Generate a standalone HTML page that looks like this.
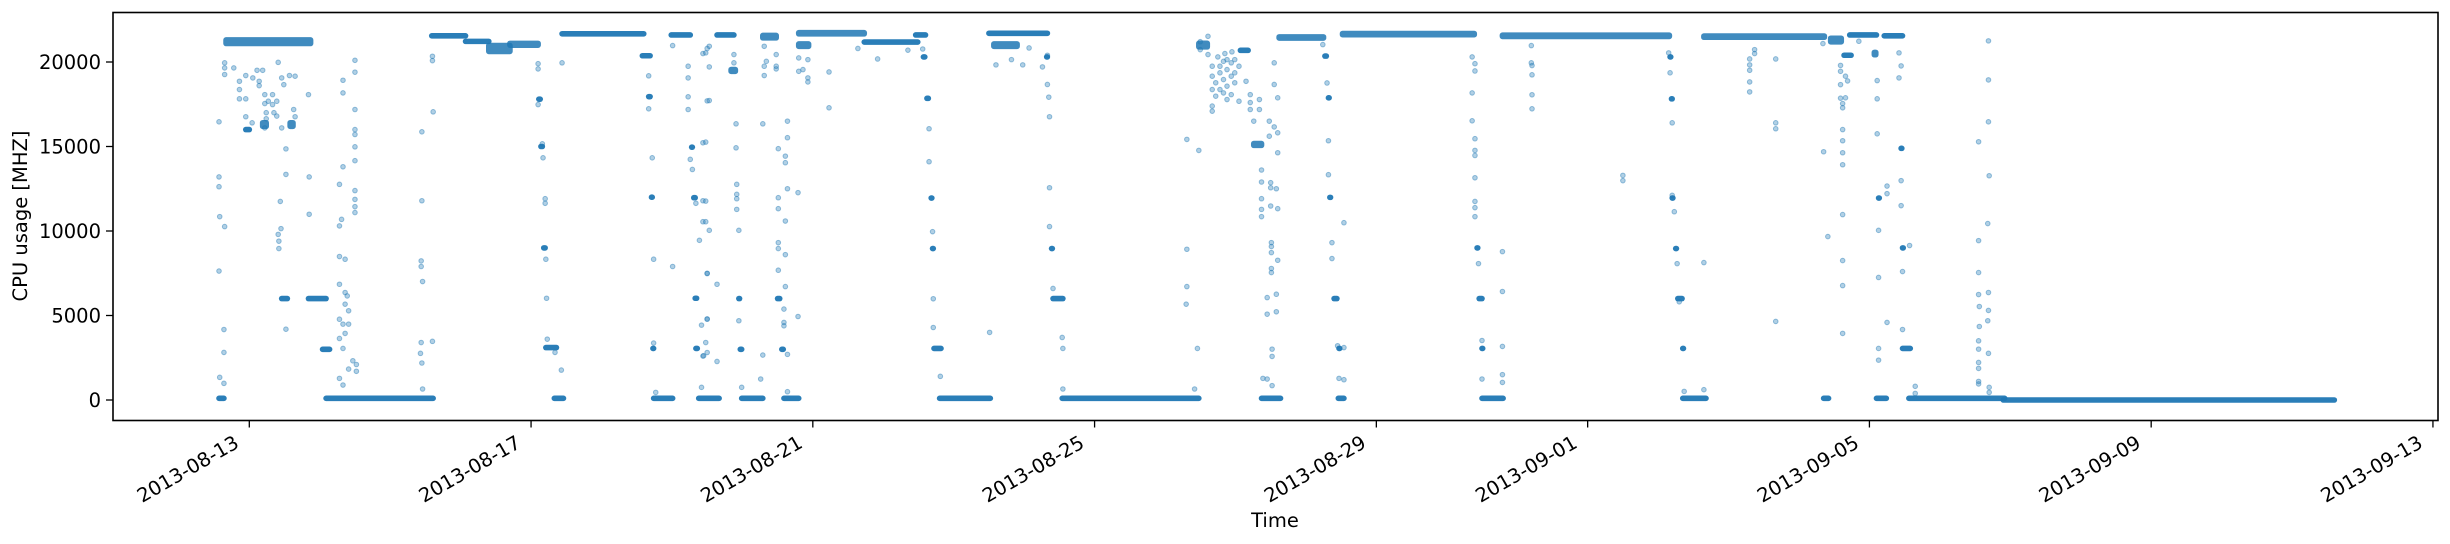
<!DOCTYPE html>
<html><head><meta charset="utf-8"><style>
html,body{margin:0;padding:0;background:#fff}
svg{display:block;font-family:"DejaVu Sans","Liberation Sans",sans-serif}
</style></head><body>
<svg id="chart" width="2450" height="544" viewBox="0 0 2450 544" xmlns="http://www.w3.org/2000/svg">
<rect x="0" y="0" width="2450" height="544" fill="#fff"/>
<g id="marks"></g>
<rect x="113" y="12.5" width="2325" height="408" fill="none" stroke="#000" stroke-width="1.6"/>
<g id="axes"></g>
<text x="0" y="0" font-size="19.5" text-anchor="middle" transform="translate(27,216) rotate(-90)">CPU usage [MHZ]</text>
<text x="1275" y="527" font-size="19.5" text-anchor="middle">Time</text>
</svg>
<script>
// ---- data ----
const xTickDays = [0,4,8,12,16,19,23,27,31];
const xTickLabels = ["2013-08-13","2013-08-17","2013-08-21","2013-08-25","2013-08-29","2013-09-01","2013-09-05","2013-09-09","2013-09-13"];
const yTickValues = [0,5000,10000,15000,20000];
const yTickLabels = ["0","5000","10000","15000","20000"];
// dense runs of samples: start day, end day, value, band spread
const segStart = [-0.43,-0.33,-0.05,0.19,0.58,0.46,0.84,1.04,1.09,2.59,3.07,3.40,3.70,4.11,4.14,4.18,4.21,4.33,4.44,5.58,5.67,5.71,5.73,5.74,5.99,6.28,6.31,6.33,6.34,6.38,6.64,6.84,6.95,6.97,6.99,7.29,7.50,7.56,7.59,7.80,7.80,8.73,9.46,9.57,9.62,9.68,9.70,9.72,9.80,10.50,10.57,11.32,11.39,11.41,11.54,13.48,14.07,14.26,14.37,14.62,15.27,15.32,15.34,15.40,15.47,15.46,15.52,17.43,17.46,17.50,17.50,17.79,20.17,20.19,20.20,20.25,20.28,20.35,20.35,20.65,22.35,22.45,22.64,22.72,23.07,23.13,23.10,23.21,23.45,23.47,23.47,23.56,24.90];
const segEnd   = [-0.36,0.87,0.0,0.24,0.62,0.54,1.09,1.14,2.61,3.07,3.40,3.70,4.10,4.13,4.16,4.20,4.36,4.46,5.60,5.69,5.69,5.72,5.74,6.01,6.26,6.29,6.33,6.35,6.36,6.67,6.88,6.90,6.96,6.99,7.29,7.48,7.53,7.58,7.80,7.94,8.73,9.49,9.60,9.59,9.64,9.69,9.71,9.82,10.52,11.33,10.90,11.33,11.40,11.55,13.48,13.60,14.18,14.37,14.64,15.25,15.29,15.33,15.35,15.44,15.48,15.54,17.39,17.44,17.50,17.51,17.80,20.16,20.18,20.20,20.21,20.26,20.34,20.36,20.68,22.36,22.42,22.60,22.74,23.10,23.09,23.14,23.24,23.47,23.46,23.48,23.58,24.92,29.60];
const segValue = [100,21200,16000,16300,16300,6000,6000,3000,100,21550,21220,20800,21050,17800,15000,9000,3100,100,21670,20370,17950,12000,3050,100,21600,14960,11970,6020,3050,100,21600,19500,6000,3000,100,21500,6000,3000,100,21000,21700,21180,21600,20300,17850,11950,8960,3050,100,21700,21000,20300,8960,6000,100,21000,20690,15120,100,21450,20350,17880,11990,6000,3050,100,21650,9000,6000,3050,100,21550,20300,17820,11950,8960,6000,3050,100,21500,100,21300,20400,21600,20500,11950,100,21550,14890,9000,3050,100,0];
const segSpread = [0,300,0,300,300,0,0,0,0,0,0,500,150,0,0,0,0,0,0,0,0,0,0,0,0,0,0,0,0,0,0,150,0,0,0,200,0,0,0,200,100,0,0,0,0,0,0,0,0,0,200,0,0,0,0,300,0,150,0,100,0,0,0,0,0,0,100,0,0,0,0,100,0,0,0,0,0,0,0,100,0,300,0,0,200,0,0,0,0,0,0,0,0];
// individual scattered samples: [day, value]
const scatterPoints = [
[-0.43,16460],[-0.43,13200],[-0.43,12620],[-0.42,10850],[-0.43,7630],[-0.42,1340],[-0.36,4170],[-0.36,2815],[-0.35,10260],[-0.36,985],
[-0.35,19950],[-0.35,19650],[-0.35,19260],[-0.22,19650],[-0.14,18860],[-0.14,18370],[-0.14,17820],[-0.05,17820],[-0.05,19200],[-0.05,16760],
[0.04,16400],[0.05,19060],[0.11,19510],[0.14,18600],[0.14,18860],[0.19,19510],[0.22,18070],[0.22,17540],[0.24,17000],[0.24,16640],[0.22,16100],
[0.27,17680],[0.33,17480],[0.33,18070],[0.35,17000],[0.39,17680],[0.39,16800],[0.41,19980],[0.44,11750],[0.45,10140],[0.41,9800],[0.42,9400],[0.42,8960],
[0.46,19060],[0.46,16100],[0.49,18660],[0.52,13350],[0.52,14860],[0.52,4190],[0.57,19200],[0.63,17190],[0.65,16760],[0.65,19160],[0.84,18070],[0.85,13200],[0.85,10990],
[1.28,12760],[1.28,10300],[1.28,8490],[1.28,6850],[1.28,4780],[1.28,3640],[1.28,1280],[1.31,10690],[1.33,18920],[1.33,18170],[1.33,13800],[1.33,4490],[1.33,3050],[1.33,886],
[1.36,8330],[1.36,6360],[1.36,5670],[1.36,3940],[1.39,6160],[1.41,5280],[1.41,4490],[1.41,1830],[1.47,2320],[1.5,20100],[1.5,19400],[1.5,17190],[1.5,16000],[1.5,15710],
[1.5,14980],[1.5,14160],[1.5,12390],[1.5,11870],[1.5,11440],[1.5,11090],[1.52,2100],[1.52,1700],
[2.45,15870],[2.45,11790],[2.44,8230],[2.44,7900],[2.46,7010],[2.44,3400],[2.43,2760],[2.45,2190],[2.46,650],[2.6,20340],[2.6,20080],[2.61,17050],[2.6,3470],
[4.1,19900],[4.1,19590],[4.1,17480],[4.16,15160],[4.17,14330],[4.2,11910],[4.2,11640],[4.21,8330],[4.22,6020],[4.23,3600],[4.34,2815],[4.43,1770],[4.44,19950],
[5.67,19180],[5.67,17230],[5.72,14330],[5.74,8330],[5.74,3370],[5.77,450],[6.01,20970],[6.01,7900],
[6.23,19750],[6.23,19060],[6.23,17940],[6.23,17190],[6.26,14240],[6.29,13640],[6.34,11640],[6.39,9450],[6.42,4430],[6.42,750],[6.45,2620],[6.48,20540],[6.48,15260],
[6.48,11770],[6.48,10550],[6.48,3400],[6.5,7480],[6.5,4780],[6.5,2810],[6.53,20930],[6.53,19710],[6.53,17720],[6.53,10040],
[6.44,20500],[6.44,15220],[6.44,11790],[6.44,10550],[6.44,2600],[6.5,20800],[6.5,17700],[6.5,7500],[6.5,4800],[6.64,6850],[6.64,2280],
[6.88,20440],[6.88,19950],[6.91,16340],[6.91,14920],[6.92,12760],[6.92,12170],[6.92,11910],[6.92,11280],[6.95,10040],[6.95,4690],[6.99,750],
[7.26,1240],[7.29,16340],[7.29,2660],[7.31,20930],[7.31,19750],[7.31,19200],[7.34,20040],[7.48,20440],[7.48,19750],[7.48,19590],
[7.51,14870],[7.51,11970],[7.51,11320],[7.51,9310],[7.51,8960],[7.51,7680],[7.59,5380],[7.59,4590],[7.59,4390],[7.61,14430],[7.61,14040],[7.61,10590],[7.61,8600],[7.61,6710],
[7.64,16500],[7.64,15520],[7.64,12500],[7.64,2700],[7.64,490],[7.79,12270],[7.79,4940],
[7.8,20240],[7.8,19450],[7.86,19550],[7.93,20140],[7.93,19060],[7.93,18820],[8.23,19410],[8.23,17290],[8.92,20180],[8.64,20800],[9.35,20700],
[9.56,20770],[9.65,16050],[9.65,14100],[9.7,9960],[9.71,5990],[9.71,4290],[9.81,1400],[10.51,4000],
[10.6,19830],[10.82,20140],[10.98,19830],[11.07,20830],[11.26,19710],
[11.33,20400],[11.33,18670],[11.35,17920],[11.36,16760],[11.36,12560],[11.36,10260],[11.41,6600],[11.54,3700],[11.55,3050],[11.55,650],
[13.31,15420],[13.31,8920],[13.31,6710],[13.3,5670],[13.42,650],[13.46,3050],[13.48,14770],
[13.5,21200],[13.5,20730],[13.61,21520],[13.61,20440],[13.67,19750],[13.67,19160],[13.67,18370],[13.67,17390],[13.67,17090],[13.72,18770],[13.72,17980],
[13.78,19750],[13.78,19360],[13.78,18370],[13.83,20040],[13.83,18960],[13.83,18170],[13.88,20140],[13.88,19550],[13.88,18570],[13.88,17780],
[13.94,19950],[13.94,19160],[13.94,18070],[13.99,20140],[13.99,19360],[13.99,18770],[14.05,19750],[14.05,17680],[13.75,20300],[13.85,20500],[13.95,20600],
[14.15,18860],[14.21,18070],[14.21,17600],[14.21,17190],[14.26,16500],
[14.34,17780],[14.34,17190],[14.37,13610],[14.37,12900],[14.37,11910],[14.37,11280],[14.37,10850],[14.39,1280],[14.45,1240],[14.48,16500],[14.48,15610],
[14.5,12860],[14.5,12560],[14.5,11480],[14.51,9310],[14.51,9080],[14.51,8720],[14.51,7780],[14.51,7540],[14.45,6060],[14.45,5080],[14.52,3010],[14.52,2580],[14.52,850],
[14.55,19950],[14.55,18670],[14.55,16160],[14.58,12500],[14.58,6260],[14.58,5220],[14.6,17880],[14.6,15810],[14.6,14630],[14.6,11320],[14.6,8270],
[15.24,21030],[15.3,18760],[15.32,15340],[15.32,13330],[15.37,9310],[15.37,8370],[15.45,3210],[15.47,1280],[15.54,10490],[15.54,3100],[15.54,1200],
[17.36,20300],[17.36,18170],[17.36,16520],[17.4,19900],[17.4,19470],[17.4,15460],[17.4,14770],[17.4,14470],[17.4,13150],[17.4,11750],[17.4,11380],[17.4,10850],
[17.45,8070],[17.5,3520],[17.5,1240],[17.79,8780],[17.79,6420],[17.79,3170],[17.79,1500],[17.79,1040],
[18.2,20970],[18.2,19950],[18.21,19790],[18.21,19240],[18.21,18060],[18.21,17230],[19.5,13290],[19.5,12980],
[20.15,20540],[20.17,19360],[20.2,16400],[20.2,12110],[20.23,11140],[20.27,8070],[20.3,5810],[20.37,510],[20.65,8130],[20.65,610],
[21.3,20180],[21.3,19830],[21.3,19510],[21.3,18820],[21.3,18230],[21.37,20730],[21.37,20500],[21.67,20180],[21.67,16400],[21.67,16050],[21.67,4650],
[22.34,21090],[22.35,14690],[22.41,9670],[22.59,19800],[22.59,19450],[22.59,18660],[22.59,17860],[22.62,17540],[22.62,17290],[22.62,16000],[22.62,15340],
[22.62,14630],[22.62,13920],[22.62,10970],[22.62,8250],[22.62,6770],[22.62,3940],[22.66,17880],[22.66,19160],[22.69,18880],[22.85,21230],
[23.11,18900],[23.11,17820],[23.11,15750],[23.13,10040],[23.13,7250],[23.13,3050],[23.13,2360],[23.25,12660],[23.25,12210],[23.25,4590],
[23.42,20540],[23.42,19060],[23.45,19770],[23.45,12980],[23.45,11500],[23.47,7600],[23.47,4170],[23.57,9140],[23.65,810],[23.65,390],
[24.55,15280],[24.55,9430],[24.55,7540],[24.55,6240],[24.56,5530],[24.56,4350],[24.55,3500],[24.55,3010],[24.55,2220],[24.55,1870],[24.55,1100],[24.55,950],
[24.69,21250],[24.69,18940],[24.69,16460],[24.7,13270],[24.68,10440],[24.69,6360],[24.69,5300],[24.68,4690],[24.69,2760],[24.7,750],[24.7,450]
];
// ---- scales ----
const X0 = 249.3, PXD = 70.44, Y0 = 400, PYV = 0.0169;
function xScale(d){ return X0 + d * PXD; }
function yScale(v){ return Y0 - v * PYV; }
const NS = "http://www.w3.org/2000/svg";
const marks = document.getElementById('marks');
const axes = document.getElementById('axes');
const C = "#1f77b4";
// dense runs
for (let i = 0; i < segStart.length; i++) {
  const x1 = xScale(segStart[i]), x2 = xScale(segEnd[i]);
  const hv = segSpread[i] * PYV * 0.7;
  const r = document.createElementNS(NS, 'rect');
  
  
  r.setAttribute('x', (x1 - 2.8).toFixed(2));
  r.setAttribute('y', (yScale(segValue[i]) - hv / 2 - 2.8).toFixed(2));
  r.setAttribute('width', (x2 - x1 + 5.6).toFixed(2));
  r.setAttribute('height', (hv + 5.6).toFixed(2));
  r.setAttribute('rx', '2.8');
  r.setAttribute('fill', C);
  r.setAttribute('fill-opacity', hv > 0 ? '0.85' : '0.95');
  marks.appendChild(r);
}
// scattered samples
for (const p of scatterPoints) {
  const c = document.createElementNS(NS, 'circle');
  
  
  c.setAttribute('cx', xScale(p[0]).toFixed(2));
  c.setAttribute('cy', yScale(p[1]).toFixed(2));
  c.setAttribute('r', '2.3');
  c.setAttribute('fill', C);
  c.setAttribute('fill-opacity', '0.35');
  c.setAttribute('stroke', C);
  c.setAttribute('stroke-opacity', '0.45');
  c.setAttribute('stroke-width', '1');
  marks.appendChild(c);
}
// x ticks
for (let i = 0; i < xTickDays.length; i++) {
  const x = xScale(xTickDays[i]);
  const t = document.createElementNS(NS, 'line');
  
  
  t.setAttribute('x1', x); t.setAttribute('x2', x);
  t.setAttribute('y1', 420.5); t.setAttribute('y2', 427.5);
  t.setAttribute('stroke', '#000'); t.setAttribute('stroke-width', '1.3');
  axes.appendChild(t);
  const tx = document.createElementNS(NS, 'text');
  
  
  tx.setAttribute('font-size', '19.5');
  tx.setAttribute('text-anchor', 'end');
  tx.setAttribute('transform', 'translate(' + (x - 9) + ',446.5) rotate(-30)');
  tx.textContent = xTickLabels[i];
  axes.appendChild(tx);
}
// y ticks
for (let i = 0; i < yTickValues.length; i++) {
  const y = yScale(yTickValues[i]);
  const t = document.createElementNS(NS, 'line');
  
  
  t.setAttribute('x1', 106); t.setAttribute('x2', 113);
  t.setAttribute('y1', y); t.setAttribute('y2', y);
  t.setAttribute('stroke', '#000'); t.setAttribute('stroke-width', '1.3');
  axes.appendChild(t);
  const tx = document.createElementNS(NS, 'text');
  
  
  tx.setAttribute('font-size', '19.5');
  tx.setAttribute('text-anchor', 'end');
  tx.setAttribute('x', 101);
  tx.setAttribute('y', y + 7);
  tx.textContent = yTickLabels[i];
  axes.appendChild(tx);
}
</script>
</body></html>
